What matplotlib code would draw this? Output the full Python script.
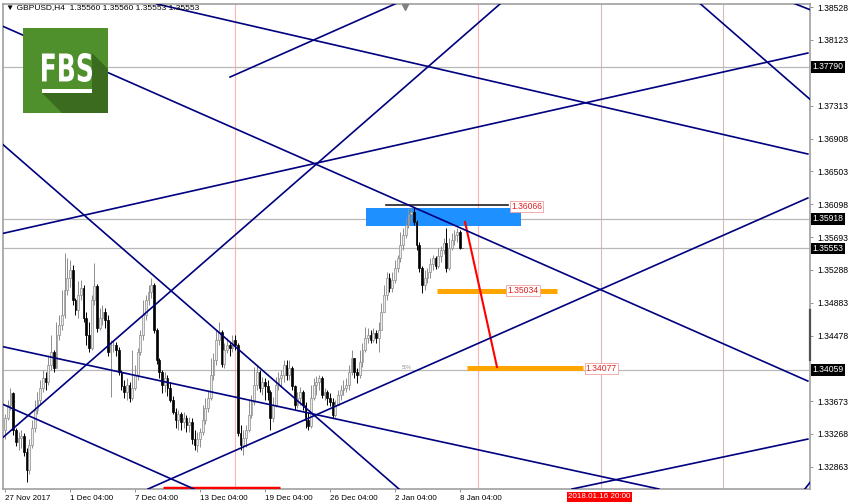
import numpy as np
import matplotlib.pyplot as plt
import matplotlib.transforms as mtransforms
from matplotlib.patches import Rectangle, Polygon, PathPatch
from matplotlib.textpath import TextPath
from matplotlib.font_manager import FontProperties

plt.rcParams['font.family'] = ['Liberation Sans', 'DejaVu Sans']

W, H = 850, 504

# GBPUSD H4 bars; the open of a bar is the close of the bar before
first_open = 1.3332
closes = [
    1.3346, 1.3362, 1.3377, 1.3332, 1.3317, 1.3322, 1.3324, 1.3305, 1.3283, 1.3313,
    1.3334, 1.3356, 1.3369, 1.3383, 1.3396, 1.3391, 1.3412, 1.3428, 1.3408, 1.3449,
    1.3461, 1.3473, 1.3504, 1.3519, 1.3529, 1.3492, 1.3479, 1.3498, 1.3507, 1.3470,
    1.3449, 1.3433, 1.3492, 1.3509, 1.3457, 1.3470, 1.3477, 1.3467, 1.3428, 1.3436,
    1.3436, 1.3430, 1.3403, 1.3386, 1.3378, 1.3387, 1.3371, 1.3383, 1.3399, 1.3428,
    1.3449, 1.3473, 1.3492, 1.3502, 1.3510, 1.3455, 1.3418, 1.3403, 1.3387, 1.3396,
    1.3383, 1.3369, 1.3354, 1.3344, 1.3351, 1.3342, 1.3346, 1.3338, 1.3342, 1.3320,
    1.3313, 1.3320, 1.3329, 1.3344, 1.3359, 1.3371, 1.3399, 1.3418, 1.3443, 1.3452,
    1.3413, 1.3430, 1.3436, 1.3433, 1.3443, 1.3436, 1.3328, 1.3313, 1.3322, 1.3332,
    1.3350, 1.3366, 1.3387, 1.3403, 1.3383, 1.3391, 1.3386, 1.3378, 1.3346, 1.3362,
    1.3387, 1.3396, 1.3399, 1.3412, 1.3399, 1.3408, 1.3386, 1.3362, 1.3371, 1.3378,
    1.3362, 1.3344, 1.3337, 1.3371, 1.3387, 1.3391, 1.3396, 1.3375, 1.3378, 1.3371,
    1.3366, 1.3350, 1.3362, 1.3375, 1.3381, 1.3383, 1.3387, 1.3403, 1.3420, 1.3403,
    1.3399, 1.3415, 1.3430, 1.3445, 1.3449, 1.3443, 1.3451, 1.3445, 1.3455, 1.3477,
    1.3498, 1.3519, 1.3507, 1.3516, 1.3531, 1.3544, 1.3560, 1.3572, 1.3584, 1.3598,
    1.3600, 1.3588, 1.3560, 1.3531, 1.3510, 1.3519, 1.3526, 1.3536, 1.3544, 1.3534,
    1.3546, 1.3553, 1.3562, 1.3531, 1.3556, 1.3566, 1.3572, 1.3576, 1.3556, 1.35553,
]
highs = [
    1.3352, 1.3369, 1.3383, 1.3378, 1.3334, 1.3329, 1.3332, 1.3328, 1.3310, 1.3320,
    1.3344, 1.3369, 1.3378, 1.3393, 1.3406, 1.3403, 1.3424, 1.3449, 1.3430, 1.3465,
    1.3473, 1.3504, 1.3550, 1.3544, 1.3541, 1.3535, 1.3494, 1.3515, 1.3516, 1.3510,
    1.3477, 1.3465, 1.3498, 1.3538, 1.3511, 1.3482, 1.3486, 1.3482, 1.3473, 1.3443,
    1.3443, 1.3440, 1.3434, 1.3406, 1.3393, 1.3396, 1.3391, 1.3430, 1.3412, 1.3433,
    1.3455, 1.3492, 1.3498, 1.3510, 1.3519, 1.3513, 1.3457, 1.3420, 1.3406, 1.3403,
    1.3399, 1.3391, 1.3374, 1.3359, 1.3356, 1.3354, 1.3354, 1.3350, 1.3348, 1.3346,
    1.3332, 1.3329, 1.3334, 1.3362, 1.3371, 1.3381, 1.3421, 1.3427, 1.3455, 1.3465,
    1.3455, 1.3439, 1.3445, 1.3440, 1.3449, 1.3449, 1.3439, 1.3338, 1.3332, 1.3338,
    1.3369, 1.3375, 1.3409, 1.3412, 1.3406, 1.3397, 1.3396, 1.3393, 1.3381, 1.3372,
    1.3397, 1.3403, 1.3406, 1.3418, 1.3418, 1.3418, 1.3410, 1.3387, 1.3378, 1.3385,
    1.3381, 1.3366, 1.3354, 1.3387, 1.3396, 1.3398, 1.3399, 1.3398, 1.3383, 1.3381,
    1.3377, 1.3371, 1.3369, 1.3381, 1.3387, 1.3393, 1.3396, 1.3412, 1.3430, 1.3420,
    1.3408, 1.3430, 1.3439, 1.3459, 1.3457, 1.3455, 1.3457, 1.3455, 1.3465, 1.3488,
    1.3510, 1.3526, 1.3525, 1.3526, 1.3541, 1.3547, 1.3576, 1.3581, 1.3593, 1.3605,
    1.3605, 1.3607, 1.3590, 1.3563, 1.3534, 1.3529, 1.3531, 1.3544, 1.3547, 1.3546,
    1.3556, 1.3558, 1.3568, 1.3581, 1.3568, 1.3574, 1.3578, 1.3580, 1.3578, 1.3556,
]
lows = [
    1.3320, 1.3344, 1.3356, 1.3326, 1.3312, 1.3307, 1.3310, 1.3300, 1.3268, 1.3277,
    1.3310, 1.3329, 1.3352, 1.3364, 1.3378, 1.3381, 1.3387, 1.3406, 1.3403, 1.3408,
    1.3443, 1.3455, 1.3470, 1.3498, 1.3508, 1.3486, 1.3473, 1.3470, 1.3492, 1.3465,
    1.3436, 1.3428, 1.3430, 1.3486, 1.3452, 1.3455, 1.3461, 1.3457, 1.3423, 1.3372,
    1.3428, 1.3423, 1.3399, 1.3381, 1.3371, 1.3369, 1.3366, 1.3369, 1.3381, 1.3393,
    1.3424, 1.3443, 1.3467, 1.3486, 1.3494, 1.3451, 1.3413, 1.3396, 1.3377, 1.3378,
    1.3374, 1.3366, 1.3351, 1.3334, 1.3332, 1.3332, 1.3334, 1.3329, 1.3329, 1.3315,
    1.3307, 1.3305, 1.3311, 1.3326, 1.3339, 1.3354, 1.3369, 1.3393, 1.3412, 1.3436,
    1.3409, 1.3408, 1.3426, 1.3423, 1.3428, 1.3430, 1.3324, 1.3307, 1.3301, 1.3311,
    1.3329, 1.3346, 1.3362, 1.3381, 1.3378, 1.3375, 1.3369, 1.3369, 1.3332, 1.3342,
    1.3360, 1.3381, 1.3385, 1.3391, 1.3393, 1.3393, 1.3381, 1.3356, 1.3359, 1.3362,
    1.3356, 1.3334, 1.3332, 1.3334, 1.3369, 1.3375, 1.3381, 1.3371, 1.3369, 1.3362,
    1.3361, 1.3346, 1.3348, 1.3362, 1.3369, 1.3375, 1.3378, 1.3381, 1.3399, 1.3396,
    1.3390, 1.3396, 1.3409, 1.3428, 1.3439, 1.3439, 1.3440, 1.3439, 1.3428, 1.3455,
    1.3477, 1.3492, 1.3502, 1.3502, 1.3513, 1.3526, 1.3539, 1.3553, 1.3568, 1.3581,
    1.3588, 1.3584, 1.3553, 1.3526, 1.3500, 1.3504, 1.3513, 1.3519, 1.3529, 1.3530,
    1.3531, 1.3539, 1.3548, 1.3526, 1.3529, 1.3553, 1.3560, 1.3563, 1.3555, 1.35553,
]

# x axis: bar number, one label every 24 bars
tick_bars = [0, 24, 48, 72, 96, 120, 144, 168]
tick_names = ["27 Nov 2017", "1 Dec 04:00", "7 Dec 04:00", "13 Dec 04:00",
              "19 Dec 04:00", "26 Dec 04:00", "2 Jan 04:00", "8 Jan 04:00"]
# price scale (1.37718 and 1.34073 sit under the black level boxes)
price_ticks = [1.38528, 1.38123, 1.37313, 1.36908, 1.36503, 1.36098, 1.35693,
               1.35288, 1.34883, 1.34478, 1.33673, 1.33268, 1.32863]

# trend lines, (bar, price) end points
trend_lines = [
    ((-1.85, 1.38306), (296.5, 1.33920)),
    ((-1.85, 1.36865), (145.5, 1.32590)),
    ((-1.85, 1.33193), (182.8, 1.38565)),
    ((-1.85, 1.34351), (241.5, 1.32590)),
    ((-1.85, 1.33649), (69.8, 1.32590)),
    ((52.8, 1.32590), (296.5, 1.36175)),
    ((-1.85, 1.35731), (296.5, 1.37961)),
    ((83.1, 1.37665), (144.8, 1.38577)),
    ((255.2, 1.38614), (297.6, 1.37382)),
    ((291.0, 1.38577), (297.6, 1.38491)),
    ((56.1, 1.38565), (296.5, 1.36717)),
    ((209.4, 1.32590), (296.5, 1.33205)),
    ((295.4, 1.32590), (298.0, 1.32700)),
]
h_levels = [1.37790, 1.35918, 1.35553, 1.34059]
v_pink = [84.9, 174.7]
v_grey = [220.1, 265.1]

fig = plt.figure(figsize=(W / 100, H / 100), dpi=100)
ax = fig.add_axes([3 / W, 15 / H, 807 / W, 485 / H])
ax.set_xlim(-0.74, 297.3)
ax.set_ylim(1.32590, 1.38565)

for s in ax.spines.values():
    s.set_color('#a0a0a0')
    s.set_linewidth(1.2)

for v in v_pink:
    ax.axvline(v, color='#ffb3b3', lw=0.8, zorder=1)
for v in v_grey:
    ax.axvline(v, color='#d9b8b8', lw=0.8, zorder=1)
for lv in h_levels:
    ax.axhline(lv, color='#b8b8b8', lw=0.9, zorder=1)

# candles
opens = [first_open] + closes[:-1]
for i in range(len(closes)):
    o, c = opens[i], closes[i]
    up = c >= o
    col = '#8c8c8c' if up else 'black'
    ax.vlines(i, lows[i], highs[i], color=col, lw=0.7, zorder=3)
    ax.add_patch(Rectangle((i - 0.33, min(o, c)), 0.66, max(abs(c - o), 0.00003),
                           facecolor='#ececec' if up else 'black', edgecolor=col,
                           lw=0.5, zorder=3))

# objects on the chart
ax.add_patch(Rectangle((133.3, 1.35830), 57.2, 0.00225, facecolor='#1e90ff',
                       edgecolor='none', zorder=2))
ax.plot([140.7, 185.7], [1.36085, 1.36085], color='#202020', lw=1.2, zorder=4)
ax.plot([159.5, 203.8], [1.35034, 1.35034], color='#ffa500', lw=3.6,
        solid_capstyle='butt', zorder=4)
ax.plot([170.6, 213.4], [1.34077, 1.34077], color='#ffa500', lw=3.6,
        solid_capstyle='butt', zorder=4)
ax.plot([169.9, 181.7], [1.35879, 1.34093], color='#ff0000', lw=1.5, zorder=4)
ax.plot([58.3, 101.5], [1.32605, 1.32605], color='#ff0000', lw=2.5,
        solid_capstyle='butt', zorder=4)

for (x0, y0), (x1, y1) in trend_lines:
    ax.plot([x0, x1], [y0, y1], color='#000080', lw=1.2, zorder=5)

box_kw = dict(facecolor='white', edgecolor='#f0a0a0', lw=0.6, pad=0.8)
for xb, p, txt in [(187.0, 1.36066, '1.36066'), (185.5, 1.35034, '1.35034'),
                   (214.5, 1.34077, '1.34077')]:
    ax.text(xb, p, txt, color='#e02020', fontsize=6.2, va='center', ha='left',
            bbox=box_kw, zorder=6)
ax.text(148.5, 1.34050, '50%', color='#909090', fontsize=3.5, ha='center',
        va='bottom', zorder=6)
ax.plot([147.7], [1.38530], marker='v', color='#808080', ms=5, clip_on=False, zorder=6)

# axes ticks
ax.set_xticks(tick_bars)
ax.set_xticklabels(tick_names, fontsize=5.8)
for lab in ax.get_xticklabels():
    lab.set_ha('left')
ax.yaxis.tick_right()
ax.set_yticks(price_ticks)
ax.set_yticklabels([f'{p:.5f}' for p in price_ticks], fontsize=6.2)
ax.tick_params(axis='both', colors='#808080', length=2, width=0.6, labelcolor='black')
ax.tick_params(axis='x', pad=2)
ax.tick_params(axis='y', pad=3)

trans = mtransforms.blended_transform_factory(ax.transAxes, ax.transData)
for lv in h_levels:
    ax.text(1.0 + 2.5 / 807, lv, f'{lv:.5f}', transform=trans, color='white',
            fontsize=6.2, va='center', ha='left', clip_on=False, zorder=10,
            bbox=dict(facecolor='black', edgecolor='none', pad=0.9))
ax.plot([1.0, 1.0], [1.3480, 1.3418], transform=trans, color='#505050', lw=1.6,
        clip_on=False, zorder=9)

fig.text(568 / W, 1 - 497 / H, '2018.01.16 20:00', color='white', fontsize=5.8,
         va='center', ha='left',
         bbox=dict(facecolor='#ff0000', edgecolor='none', pad=1.0))
fig.text(6 / W, 1 - 8 / H, '\u25bc GBPUSD,H4  1.35560 1.35560 1.35553 1.35553',
         fontsize=6.0, va='center', ha='left')

# FBS logo
def fpx(x, y):
    return (x / W, 1 - y / H)

fig.add_artist(Polygon([fpx(23, 28), fpx(108, 28), fpx(108, 113), fpx(23, 113)],
                       closed=True, facecolor='#4f8f2c', edgecolor='none',
                       transform=fig.transFigure, zorder=7))
fig.add_artist(Polygon([fpx(92, 53), fpx(108, 69), fpx(108, 113), fpx(62, 113),
                        fpx(42, 93), fpx(92, 93)],
                       closed=True, facecolor='#3a6b1f', edgecolor='none',
                       transform=fig.transFigure, zorder=7))
tp = TextPath((0, 0), 'FBS', size=10, prop=FontProperties(family='DejaVu Sans', weight='bold'))
bb = tp.get_extents()
tx0, tx1, ty0, ty1 = 42, 92, 53, 82
tr = (mtransforms.Affine2D().translate(-bb.x0, -bb.y0)
      .scale((tx1 - tx0) / W / bb.width, (ty1 - ty0) / H / bb.height)
      .translate(tx0 / W, 1 - ty1 / H) + fig.transFigure)
fig.add_artist(PathPatch(tp, transform=tr, facecolor='white', edgecolor='none', zorder=8))
fig.add_artist(Polygon([fpx(42, 89), fpx(92, 89), fpx(92, 93), fpx(42, 93)],
                       closed=True, facecolor='white', edgecolor='none',
                       transform=fig.transFigure, zorder=8))

fig.savefig('out.png', dpi=100, facecolor='white')
